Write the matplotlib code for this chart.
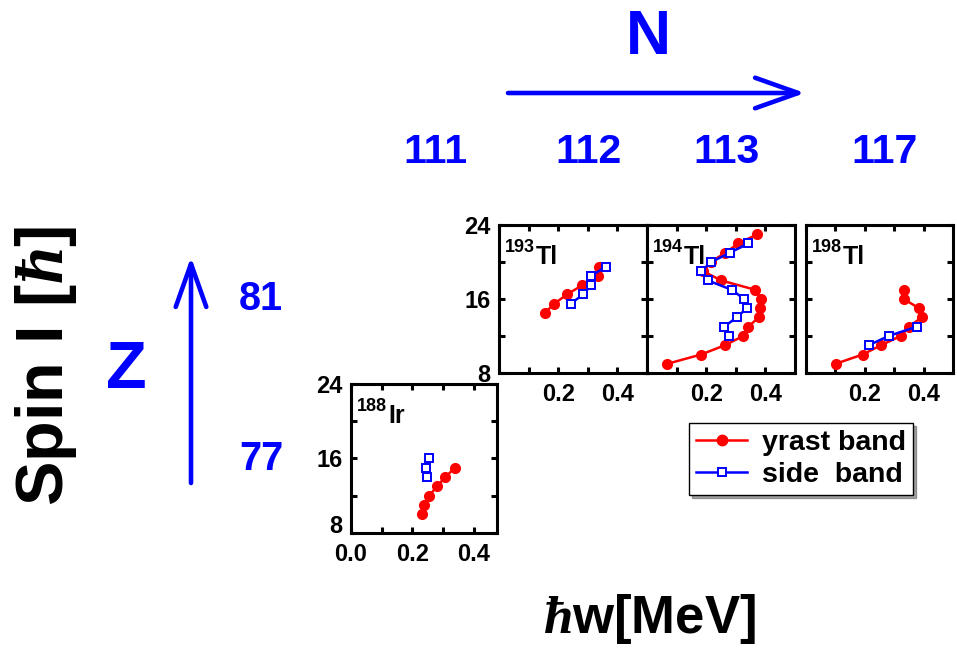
import matplotlib
matplotlib.use("Agg")
import matplotlib.pyplot as plt
from matplotlib.lines import Line2D
from matplotlib.transforms import offset_copy

plt.rcParams['font.family'] = ['Liberation Sans', 'DejaVu Sans']
plt.rcParams['font.weight'] = 'bold'
plt.rcParams['mathtext.fontset'] = 'custom'
plt.rcParams['mathtext.rm'] = 'Liberation Sans:bold'
plt.rcParams['mathtext.bf'] = 'Liberation Sans:bold'
plt.rcParams['mathtext.it'] = 'Liberation Serif:italic'

# ---------------- data ----------------
ir188_yrast_w = [0.230, 0.239, 0.254, 0.280, 0.306, 0.339]
ir188_yrast_I = [10, 11, 12, 13, 14, 15]
ir188_side_w = [0.248, 0.244, 0.253]
ir188_side_I = [14, 15, 16]

tl193_yrast_w = [0.155, 0.187, 0.230, 0.282, 0.335, 0.338]
tl193_yrast_I = [14.5, 15.5, 16.5, 17.5, 18.5, 19.5]
tl193_side_w = [0.242, 0.285, 0.311, 0.311, 0.362]
tl193_side_I = [15.5, 16.5, 17.5, 18.5, 19.5]

tl194_yrast_w = [0.069, 0.183, 0.263, 0.325, 0.342, 0.377, 0.382, 0.386,
                 0.365, 0.251, 0.19, 0.215, 0.265, 0.308, 0.373]
tl194_yrast_I = [9, 10, 11, 12, 13, 14, 15, 16, 17, 18, 19, 20, 21, 22, 23]
tl194_side_w = [0.278, 0.260, 0.303, 0.337, 0.328, 0.286, 0.206, 0.183,
                0.217, 0.280, 0.342]
tl194_side_I = [12, 13, 14, 15, 16, 17, 18, 19, 20, 21, 22]

tl198_yrast_w = [0.101, 0.193, 0.255, 0.322, 0.350, 0.393, 0.384, 0.333, 0.333]
tl198_yrast_I = [9, 10, 11, 12, 13, 14, 15, 16, 17]
tl198_side_w = [0.213, 0.281, 0.376]
tl198_side_I = [11, 12, 13]

panel_labels = ['188', '193', '194', '198']
panel_elems = ['Ir', 'Tl', 'Tl', 'Tl']
N_labels = ['111', '112', '113', '117']
Z_labels = ['81', '77']
x_major = [0.0, 0.2, 0.4]
x_minor = [0.1, 0.3]
y_major = [8, 16, 24]
y_minor = [12, 20]

W, H = 957, 653
fig = plt.figure(figsize=(W / 100, H / 100), dpi=100)


def rect(l, r, t, b):
    return [l / W, 1 - b / H, (r - l) / W, (b - t) / H]


panels = [
    dict(rect=rect(351, 497, 384, 533), xlim=(0, 0.475), yl=True, x0=True,
         yr=(ir188_yrast_w, ir188_yrast_I), sb=(ir188_side_w, ir188_side_I)),
    dict(rect=rect(499, 647, 225, 373), xlim=(0, 0.5), yl=True, x0=False,
         yr=(tl193_yrast_w, tl193_yrast_I), sb=(tl193_side_w, tl193_side_I)),
    dict(rect=rect(647, 795, 225, 373), xlim=(0, 0.5), yl=False, x0=False,
         yr=(tl194_yrast_w, tl194_yrast_I), sb=(tl194_side_w, tl194_side_I)),
    dict(rect=rect(806, 953, 225, 373), xlim=(0, 0.5), yl=False, x0=False,
         yr=(tl198_yrast_w, tl198_yrast_I), sb=(tl198_side_w, tl198_side_I)),
]

red = '#ff0000'
blue = '#0000ff'
for i, p in enumerate(panels):
    ax = fig.add_axes(p['rect'])
    ax.plot(p['yr'][0], p['yr'][1], '-o', color=red, lw=1.8, ms=7,
            mec=red, mfc=red, zorder=3)
    ax.plot(p['sb'][0], p['sb'][1], '-s', color=blue, lw=1.8, ms=5.5,
            mec=blue, mfc='white', mew=1.4, zorder=4)
    ax.set_xlim(*p['xlim'])
    ax.set_ylim(8, 24)
    ax.set_xticks(x_major)
    ax.set_xticks(x_minor, minor=True)
    ax.set_yticks(y_major)
    ax.set_yticks(y_minor, minor=True)
    xl = ['0.0', '0.2', '0.4'] if p['x0'] else ['', '0.2', '0.4']
    ax.set_xticklabels(xl)
    if p['yl']:
        ax.set_yticklabels([str(v) for v in y_major])
    else:
        ax.set_yticklabels([])
    for which in ('major', 'minor'):
        ax.tick_params(which=which, direction='in', length=4, width=2.2,
                       top=True, right=True, labelsize=17, pad=6)
    ax.tick_params(axis='x', which='major', pad=7)
    for lab in ax.get_xticklabels() + ax.get_yticklabels():
        lab.set_fontweight('bold')
    if i == 0:
        # the lowest y label sits slightly above the corner, as in the original
        ax.get_yticklabels()[0].set_verticalalignment('baseline')
    for s in ax.spines.values():
        s.set_linewidth(2.2)
    tsup = offset_copy(ax.transAxes, fig=fig, x=6, y=-27, units='dots')
    ax.text(0, 1, panel_labels[i], transform=tsup, ha='left', va='baseline',
            fontsize=13, fontweight='bold', zorder=6)
    tel = offset_copy(ax.transAxes, fig=fig, x=37, y=-39, units='dots')
    ax.text(0, 1, panel_elems[i], transform=tel, ha='left', va='baseline',
            fontsize=18, fontweight='bold', zorder=6)

# legend
handles = [Line2D([], [], color=red, marker='o', lw=1.8, ms=7.5, mfc=red, mec=red),
           Line2D([], [], color=blue, marker='s', lw=1.8, ms=6, mfc='white',
                  mec=blue, mew=1.4)]
leg = fig.legend(handles, ['yrast band', 'side  band'], loc='upper left',
                 bbox_to_anchor=(689 / W, 1 - 423 / H), frameon=True,
                 fancybox=False, shadow=True, edgecolor='black',
                 prop={'weight': 'bold', 'size': 20.5}, handlelength=1.8,
                 handletextpad=0.5, labelspacing=0.2, borderpad=0.25,
                 borderaxespad=0)
leg.get_frame().set_linewidth(1.0)

# big texts and arrows
fig.text(648 / W, 1 - 37 / H, 'N', color=blue, fontsize=45, fontweight='bold',
         ha='center', va='center')
N_x = [435, 589, 727, 884]
for x, lab in zip(N_x, N_labels):
    fig.text(x / W, 1 - 152 / H, lab, color=blue, fontsize=29.5,
             fontweight='bold', ha='center', va='center')
fig.text(126 / W, 1 - 371 / H, 'Z', color=blue, fontsize=48,
         fontweight='bold', ha='center', va='center')
for y, lab in zip([299, 459], Z_labels):
    fig.text(261 / W, 1 - y / H, lab, color=blue, fontsize=28.5,
             fontweight='bold', ha='center', va='center')


def arrow(x0, y0, x1, y1):
    fig.add_artist(matplotlib.patches.FancyArrowPatch(
        (x0 / W, 1 - y0 / H), (x1 / W, 1 - y1 / H),
        transform=fig.transFigure, arrowstyle='->,head_length=3.1,head_width=1.1',
        color=blue, lw=3.3, capstyle='round', joinstyle='round',
        shrinkA=0, shrinkB=0, mutation_scale=10))


arrow(508, 93, 805, 93)
arrow(191, 483, 191, 257)

fig.text(46 / W, 1 - 366 / H, r'Spin I [$\mathit{\hbar}$]', rotation=90,
         fontsize=48, fontweight='bold', ha='center', va='center')
fig.text(756 / W, 1 - 633 / H, r'$\mathit{\hbar}$w[MeV]', fontsize=38,
         fontweight='bold', ha='right', va='baseline')

fig.savefig('out.png', dpi=100)
